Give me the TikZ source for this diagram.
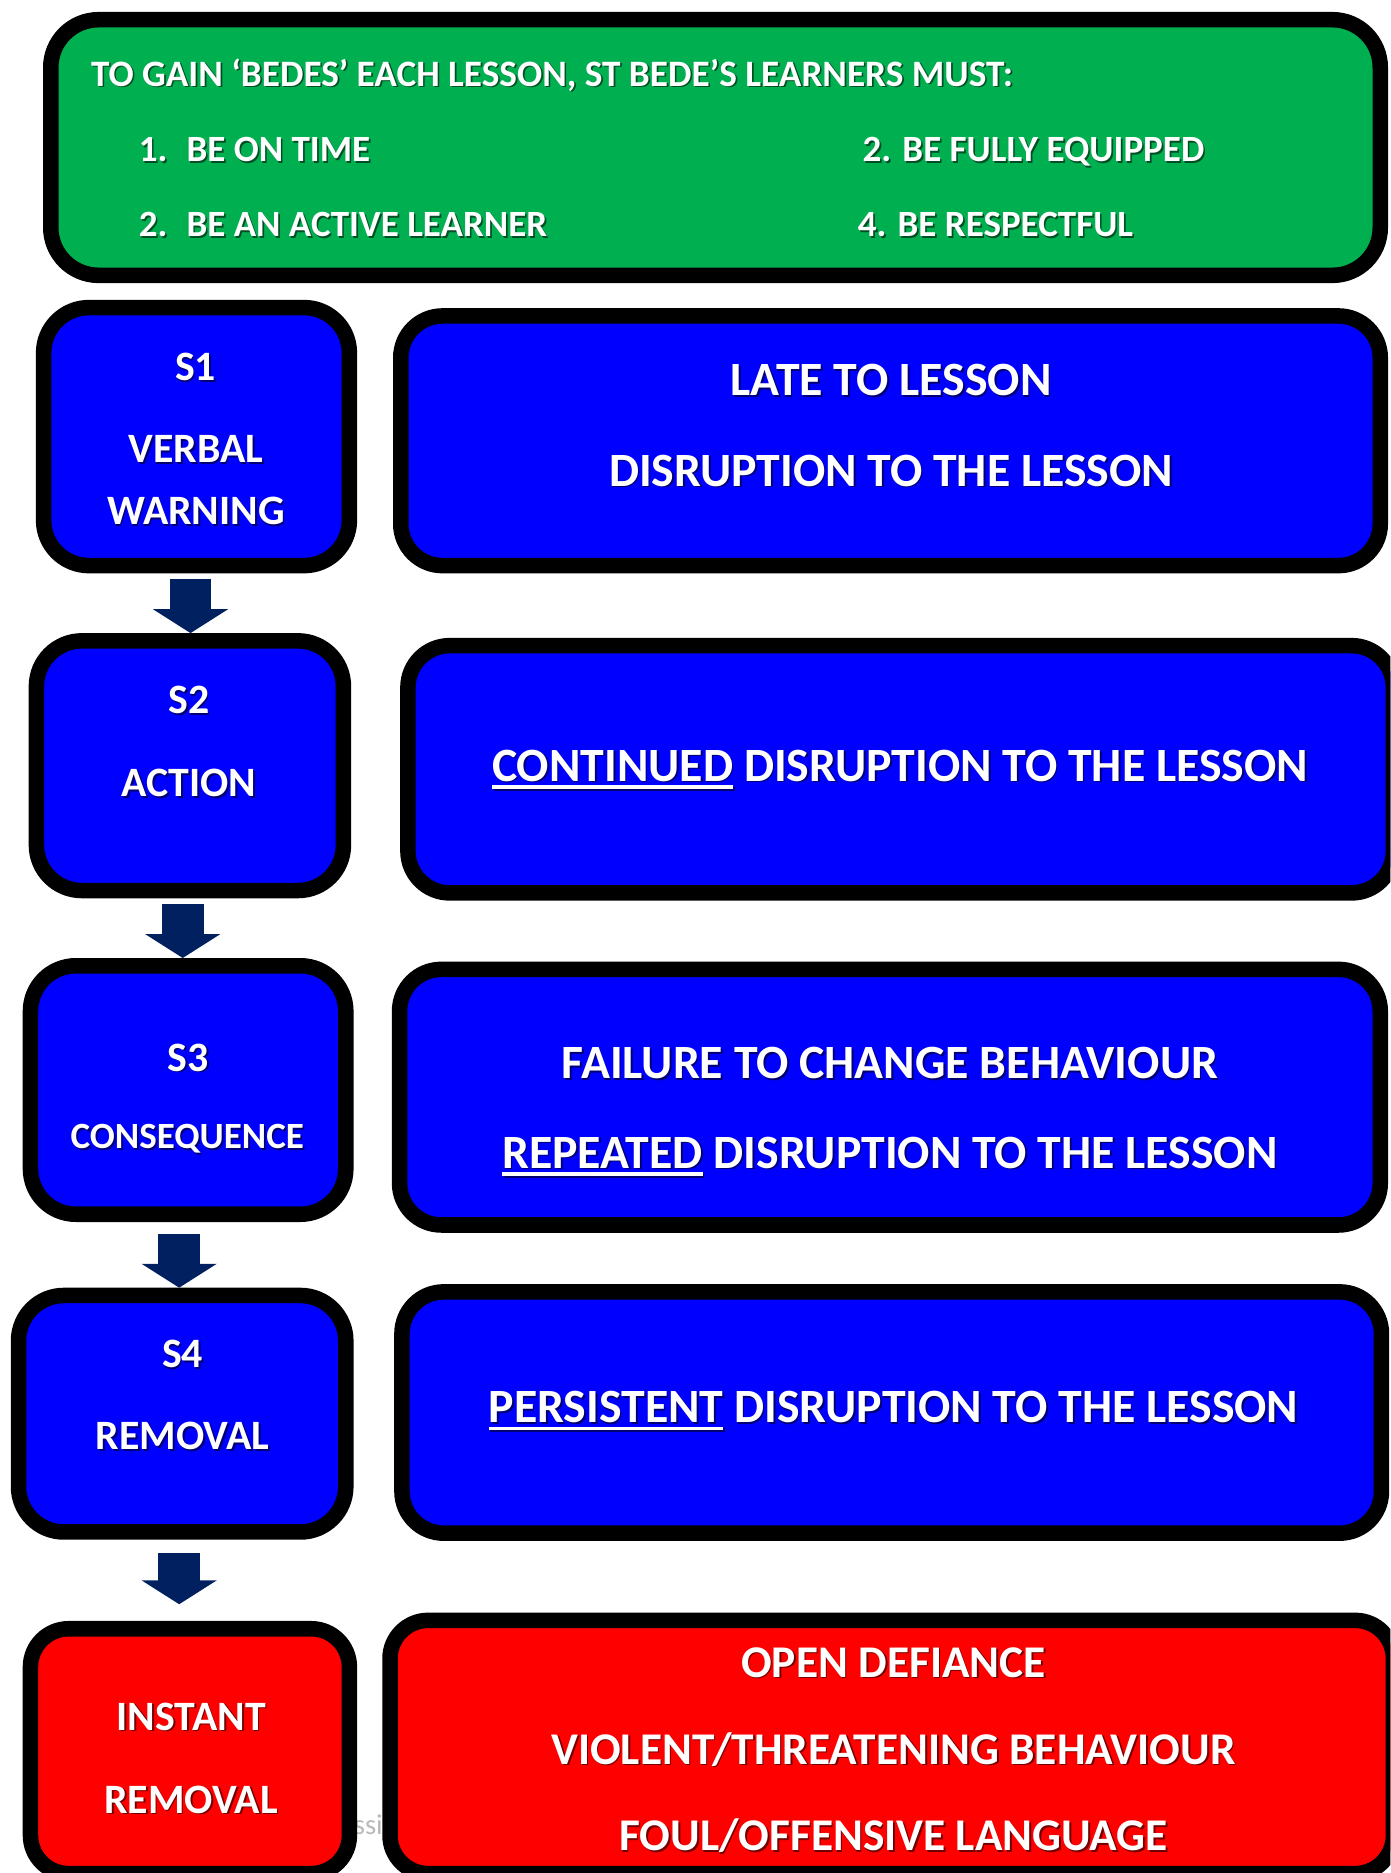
\documentclass[tikz,border=0pt]{standalone}
\usepackage{fontspec}
\setmainfont{Carlito}
\usetikzlibrary{arrows.meta}

\definecolor{boxblue}{HTML}{0000FF}
\definecolor{boxgreen}{HTML}{00B050}
\definecolor{boxred}{HTML}{FF0000}
\definecolor{navy}{HTML}{002060}
\colorlet{shcol}{black}

% white text with a soft dark drop shadow
\newcommand\shadowed[1]{\leavevmode\rlap{\kern1.4pt\raisebox{-1.4pt}{\textcolor{shcol}{#1}}}#1}
% thick underline used for the key word of a row
\newcommand\ulword[1]{\setbox0=\hbox{#1}\rlap{\rule[-6.5pt]{\wd0}{3.2pt}}\box0\relax}

\tikzset{
  panel/.style={draw=black, line width=13pt, inner sep=0pt},
  stagebox/.style={panel, fill=boxblue, rounded corners=38pt},
  infobox/.style={panel, fill=boxblue, rounded corners=35pt},
  rulebox/.style={panel, fill=boxgreen, rounded corners=40pt},
  alertbox/.style={panel, fill=boxred, rounded corners=32pt},
  lbl/.style={text=white, inner sep=0pt, anchor=base,
    font=\bfseries\fontsize{#1}{#1}\selectfont},
  lblw/.style={lbl=#1, anchor=base west},
  onblue/.style={execute at begin node={\colorlet{shcol}{boxblue!45!black}}},
  ongreen/.style={execute at begin node={\colorlet{shcol}{boxgreen!45!black}}},
  onred/.style={execute at begin node={\colorlet{shcol}{boxred!45!black}}},
  flow/.style={draw=navy, line width=35pt, line cap=butt,
    -{Triangle[width=62pt,length=20pt]}},
}

\begin{document}
\begin{tikzpicture}[x=1pt,y=-1pt]
\useasboundingbox (0,0) rectangle (1164,1568);
\clip (0,0) rectangle (1164,1568);

% faint caption text lying behind the bottom row
\node[font=\fontsize{24}{24}\selectfont, text=gray!55, inner sep=0pt, anchor=base west] (caption) at (296,1536) {ssi};

% rules panel
\node[rulebox, minimum width=1113pt, minimum height=214pt] (rules) at (599,123.5) {};
\begin{scope}[every node/.append style={ongreen}]
\node[lblw=31.2] (head) at (76,72) {\shadowed{TO GAIN ‘BEDES’ EACH LESSON, ST BEDE’S LEARNERS MUST:}};
\node[lblw=31] (r1) at (116,135.5) {\shadowed{\makebox[40pt][l]{1.}BE ON TIME}};
\node[lblw=31] (r2) at (722,135.5) {\shadowed{2. BE FULLY EQUIPPED}};
\node[lblw=31] (r3) at (116,198) {\shadowed{\makebox[40pt][l]{2.}BE AN ACTIVE LEARNER}};
\node[lblw=31] (r4) at (718,198) {\shadowed{4. BE RESPECTFUL}};
\end{scope}

% stage boxes (left) and their triggers (right)
\node[stagebox, minimum width=256pt, minimum height=216pt] (s1) at (164.5,365.5) {};
\node[infobox,  minimum width=820pt, minimum height=209pt] (d1) at (745.5,369) {};
\node[stagebox, minimum width=257pt, minimum height=209pt] (s2) at (159,641) {};
\node[infobox,  minimum width=825pt, minimum height=207pt] (d2) at (754,644) {};
\node[stagebox, minimum width=264pt, minimum height=208pt] (s3) at (157.5,912.5) {};
\node[infobox,  minimum width=821pt, minimum height=214pt] (d3) at (745,918.5) {};
\node[stagebox, minimum width=274pt, minimum height=198pt] (s4) at (152.5,1183.5) {};
\node[infobox,  minimum width=820pt, minimum height=202pt] (d4) at (746.5,1182.5) {};
\node[alertbox, minimum width=267pt, minimum height=205pt] (s5) at (159,1466) {};
\node[alertbox, minimum width=840pt, minimum height=212pt] (d5) at (746.5,1462.5) {};

\begin{scope}[every node/.append style={onblue}]
\node[lbl=35] (s1a) at (163.8,318.6) {\shadowed{S1}};
\node[lbl=35] (s1b) at (164,387.2) {\shadowed{VERBAL}};
\node[lbl=35] (s1c) at (164,439.3) {\shadowed{WARNING}};
\node[lbl=35] (s2a) at (158.2,597.6) {\shadowed{S2}};
\node[lbl=35] (s2b) at (158.2,667) {\shadowed{ACTION}};
\node[lbl=35] (s3a) at (157.6,896.8) {\shadowed{S3}};
\node[lbl=31] (s3b) at (156.8,961.7) {\shadowed{CONSEQUENCE}};
\node[lbl=35] (s4a) at (152.9,1144.8) {\shadowed{S4}};
\node[lbl=35] (s4b) at (152.9,1213.4) {\shadowed{REMOVAL}};

\node[lbl=40] (d1a) at (746,331) {\shadowed{LATE TO LESSON}};
\node[lbl=40] (d1b) at (746,407) {\shadowed{DISRUPTION TO THE LESSON}};
\node[lbl=40] (d2a) at (753.5,654) {\shadowed{\ulword{CONTINUED} DISRUPTION TO THE LESSON}};
\node[lbl=40] (d3a) at (745,903) {\shadowed{FAILURE TO CHANGE BEHAVIOUR}};
\node[lbl=40] (d3b) at (745,978) {\shadowed{\ulword{REPEATED} DISRUPTION TO THE LESSON}};
\node[lbl=40] (d4a) at (748,1191) {\shadowed{\ulword{PERSISTENT} DISRUPTION TO THE LESSON}};
\end{scope}

\begin{scope}[every node/.append style={onred}]
\node[lbl=35] (s5a) at (160,1448.5) {\shadowed{INSTANT}};
\node[lbl=35] (s5b) at (160,1518) {\shadowed{REMOVAL}};
\node[lbl=38] (d5a) at (748,1404) {\shadowed{OPEN DEFIANCE}};
\node[lbl=38] (d5b) at (748,1477) {\shadowed{VIOLENT/THREATENING BEHAVIOUR}};
\node[lbl=38] (d5c) at (748,1549) {\shadowed{FOUL/OFFENSIVE LANGUAGE}};
\end{scope}

% escalation arrows between the stages
\coordinate (a1) at (159.5,484.5);
\coordinate (a2) at (153,757);
\coordinate (a3) at (150,1033);
\coordinate (a4) at (150,1300.5);
\coordinate (a4end) at (150,1343);
\draw[flow] (a1) -- (a1 |- s2.north);
\draw[flow] (a2) -- (a2 |- s3.north);
\draw[flow] (a3) -- (a3 |- s4.north);
\draw[flow] (a4) -- (a4end);
\end{tikzpicture}
\end{document}
